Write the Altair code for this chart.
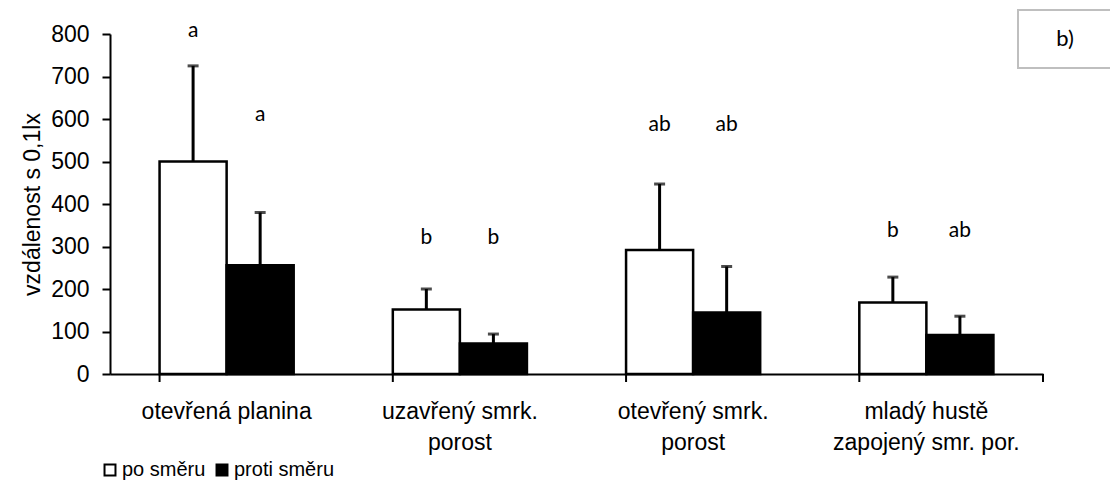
import altair as alt
import pandas as pd

categories = ["otevřená planina", "uzavřený smrk.\nporost", "otevřený smrk.\nporost",
              "mladý hustě\nzapojený smr. por."]
series = ["po směru", "proti směru"]
po_mean = [500, 152, 292, 168]
po_err_top = [725, 200, 447, 228]
proti_mean = [256, 72, 145, 92]
proti_err_top = [380, 94, 253, 136]
po_letters = ["a", "b", "ab", "b"]
proti_letters = ["a", "b", "ab", "ab"]
po_letter_y = [807, 320, 586, 336]
proti_letter_y = [609, 320, 586, 336]
panel_label = "b)"

rows = []
for i, c in enumerate(categories):
    rows.append(dict(cat=c, series=series[0], mean=po_mean[i], top=po_err_top[i],
                     letter=po_letters[i], ly=po_letter_y[i]))
    rows.append(dict(cat=c, series=series[1], mean=proti_mean[i], top=proti_err_top[i],
                     letter=proti_letters[i], ly=proti_letter_y[i]))
df = pd.DataFrame(rows)

FONT = "Liberation Sans"

x_enc = alt.X("cat:N", sort=categories,
              scale=alt.Scale(paddingInner=0.425, paddingOuter=0.2125),
              axis=alt.Axis(title=None, ticks=False, labelAngle=0, labelLimit=0,
                            labelExpr="split(datum.label, '\\n')",
                            labelFontSize=23, labelFont=FONT, labelColor="black",
                            labelPadding=26, labelLineHeight=31,
                            domainColor="black", domainWidth=2))
xo_enc = alt.XOffset("series:N", sort=series,
                     scale=alt.Scale(paddingInner=0, paddingOuter=0))
y_scale = alt.Scale(domain=[0, 800], nice=False)
y_axis = alt.Axis(title="vzdálenost s 0,1lx", values=list(range(0, 801, 100)),
                  grid=False, tickSize=8, tickWidth=2, tickColor="black",
                  domainColor="black", domainWidth=2,
                  labelFontSize=23, labelFont=FONT, labelColor="black", labelPadding=13,
                  titleFontSize=23, titleFont=FONT, titleFontWeight="normal",
                  titleColor="black", titlePadding=6)

base = alt.Chart(df)

bars = base.mark_bar(stroke="black", strokeWidth=2.5).encode(
    x=x_enc, xOffset=xo_enc,
    y=alt.Y("mean:Q", scale=y_scale, axis=y_axis),
    fill=alt.Fill("series:N", sort=series,
                  scale=alt.Scale(domain=series, range=["white", "black"]),
                  legend=alt.Legend(title=None, orient="none", legendX=-10, legendY=426,
                                    direction="horizontal", symbolType="square",
                                    symbolSize=120, symbolStrokeColor="black",
                                    symbolStrokeWidth=2, labelFontSize=20,
                                    labelFont=FONT, labelColor="black",
                                    labelOffset=2, columnPadding=6)),
)

err = base.mark_rule(color="black", strokeWidth=3).encode(
    x=alt.X("cat:N", sort=categories), xOffset=xo_enc,
    y=alt.Y("mean:Q", scale=y_scale), y2="top:Q")

caps = base.mark_tick(color="black", thickness=3, size=11, orient="horizontal").encode(
    x=alt.X("cat:N", sort=categories), xOffset=xo_enc,
    y=alt.Y("top:Q", scale=y_scale))

letters = base.mark_text(font="Lato", fontSize=21, color="black", baseline="middle").encode(
    x=alt.X("cat:N", sort=categories), xOffset=xo_enc,
    y=alt.Y("ly:Q", scale=y_scale), text="letter:N")

tick_df = pd.DataFrame({"cat": categories})
xticks = alt.Chart(tick_df).mark_rule(color="black", strokeWidth=2).encode(
    x=alt.X("cat:N", sort=categories, bandPosition=0),
    y=alt.value(340), y2=alt.value(348))
end_tick = alt.Chart(pd.DataFrame({"a": [0]})).mark_rule(color="black", strokeWidth=2).encode(
    x=alt.value(933), y=alt.value(340), y2=alt.value(348))

box_df = pd.DataFrame({"t": [panel_label]})
box = alt.Chart(box_df).mark_rect(fill="white", stroke="#bfbfbf", strokeWidth=2).encode(
    x=alt.value(908), x2=alt.value(1015), y=alt.value(-24), y2=alt.value(34))
box_text = alt.Chart(box_df).mark_text(font="Lato", fontSize=22, color="black",
                                       baseline="middle").encode(
    x=alt.value(955), y=alt.value(5), text="t:N")

chart = alt.layer(bars, err, caps, letters, xticks, end_tick, box, box_text).properties(
    width=933, height=340,
    autosize=alt.AutoSizeParams(type="none"),
    padding={"left": 102, "top": 26, "right": 67, "bottom": 109},
).configure_view(stroke=None)

chart.save("out.html", embed_options={"renderer": "svg", "actions": False})
